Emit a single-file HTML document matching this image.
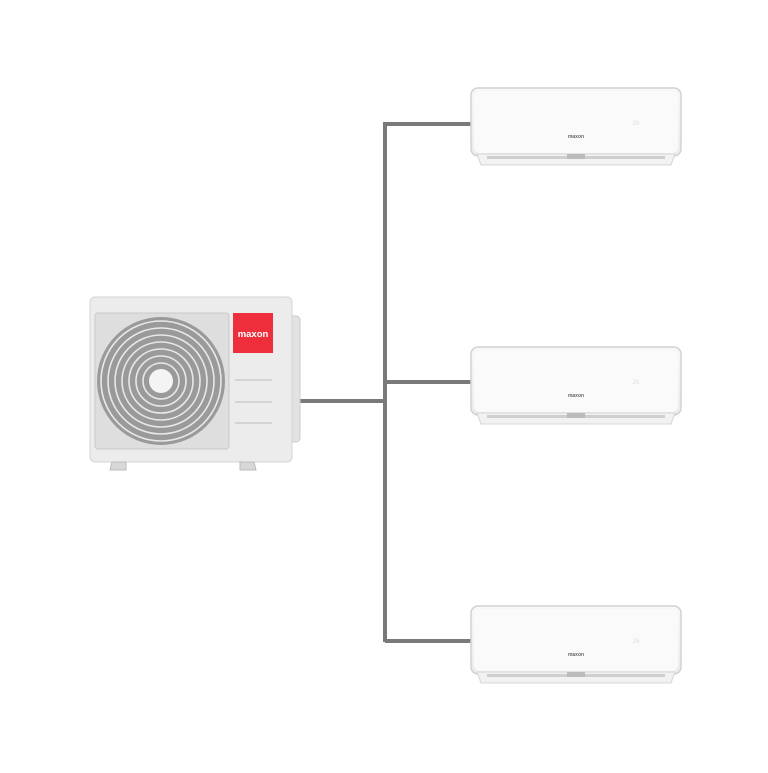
<!DOCTYPE html>
<html><head><style>body{margin:0;background:#fff}</style></head><body>
<svg width="768" height="768" xmlns="http://www.w3.org/2000/svg">
<defs>
<linearGradient id="ig" x1="0" y1="0" x2="0" y2="1"><stop offset="0" stop-color="#f7f7f7"/><stop offset="1" stop-color="#ececec"/></linearGradient>
<g id="indoor">
<rect x="0" y="0" width="210" height="68" rx="7" fill="url(#ig)" stroke="#d2d2d2" stroke-width="1.5"/>
<rect x="3" y="3" width="204" height="62" rx="6" fill="#fafafa"/>
<path d="M6 66 L204 66 L200 77 L10 77 Z" fill="#f2f2f2" stroke="#d5d5d5"/>
<rect x="16" y="68" width="178" height="3" fill="#cfcfcf"/>
<rect x="96" y="66" width="18" height="5" fill="#bbb"/>
<text x="105" y="50" font-family="Liberation Sans, sans-serif" font-size="5" fill="#666" text-anchor="middle" font-weight="bold">maxon</text>
<text x="165" y="37" font-family="Liberation Sans, sans-serif" font-size="6" fill="#ddd" text-anchor="middle">26</text>
</g>
</defs>
<g stroke="#7a7a7a" stroke-width="4" fill="none">
<path d="M385 124 V642"/>
<path d="M383 124 H471 M385 382 H471 M385 641 H471 M300 401 H385"/>
</g>
<use href="#indoor" x="471" y="88"/>
<use href="#indoor" x="471" y="347"/>
<use href="#indoor" x="471" y="606"/>
<!-- outdoor -->
<rect x="276" y="316" width="24" height="126" rx="4" fill="#e2e2e2" stroke="#ccc"/>
<rect x="90" y="297" width="202" height="165" rx="5" fill="#ececec" stroke="#d3d3d3"/>
<rect x="95" y="313" width="134" height="136" rx="3" fill="#dedede" stroke="#c8c8c8"/>
<circle cx="161" cy="381" r="64" fill="#9a9a9a"/>
<g fill="none" stroke="#e8e8e8" stroke-width="1.6">
<circle cx="161" cy="381" r="60"/><circle cx="161" cy="381" r="53"/><circle cx="161" cy="381" r="46"/><circle cx="161" cy="381" r="39"/><circle cx="161" cy="381" r="32"/><circle cx="161" cy="381" r="25"/><circle cx="161" cy="381" r="18"/>
</g>
<circle cx="161" cy="381" r="12" fill="#f4f4f4"/>
<rect x="233" y="313" width="40" height="40" fill="#ee2f3b"/>
<text x="253" y="337" font-family="Liberation Sans, sans-serif" font-size="9.5" font-weight="bold" fill="#fff" text-anchor="middle">maxon</text>
<g stroke="#d4d4d4" stroke-width="2"><path d="M235 380 H272 M235 402 H272 M235 423 H272"/></g>
<path d="M112 462 h14 v8 h-16 z M240 462 h14 l2 8 h-16 z" fill="#d8d8d8" stroke="#bbb"/>
</svg>
</body></html>
